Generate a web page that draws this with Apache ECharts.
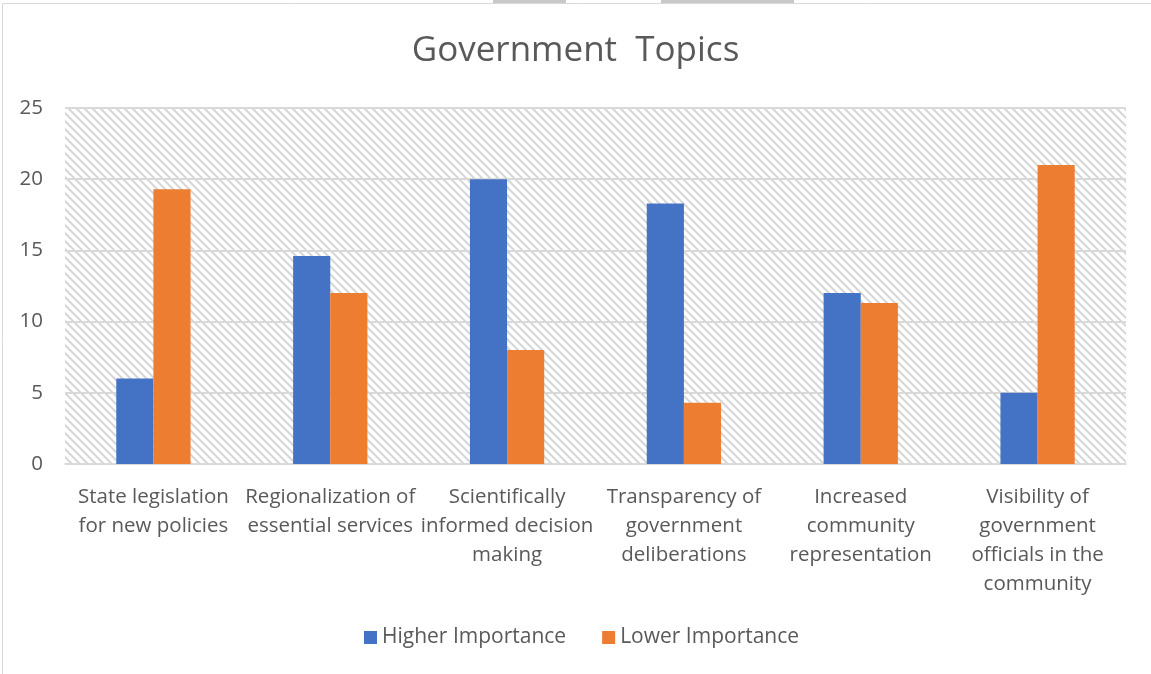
<!DOCTYPE html>
<html><head><meta charset="utf-8">
<script src="https://cdn.jsdelivr.net/npm/echarts@6/dist/echarts.min.js"></script>
<style>html,body{margin:0;padding:0;background:#fff}#c{width:1151px;height:674px}</style>
</head><body><div id="c"></div>
<script>
const categories = [
  "State legislation\nfor new policies",
  "Regionalization of\nessential services",
  "Scientifically\ninformed decision\nmaking",
  "Transparency of\ngovernment\ndeliberations",
  "Increased\ncommunity\nrepresentation",
  "Visibility of\ngovernment\nofficials in the\ncommunity"
];
const higherImportance = [6, 14.6, 20, 18.3, 12, 5];
const lowerImportance = [19.3, 12, 8, 4.3, 11.3, 21];
const yTicks = [0, 5, 10, 15, 20, 25];

const pc = document.createElement('canvas');
pc.width = 8; pc.height = 8;
const ctx = pc.getContext('2d');
ctx.fillStyle = '#ffffff'; ctx.fillRect(0,0,8,8);
ctx.strokeStyle = '#d6d6d6'; ctx.lineWidth = 2;
ctx.beginPath();
ctx.moveTo(-2,-2); ctx.lineTo(10,10);
ctx.moveTo(-10,-2); ctx.lineTo(2,10);
ctx.moveTo(6,-2); ctx.lineTo(18,10);
ctx.stroke();

const FONT = "'Open Sans', 'Noto Sans', sans-serif";
const chart = echarts.init(document.getElementById('c'), null, {renderer:'canvas'});
chart.setOption({
  animation: false,
  backgroundColor: '#fff',
  title: {
    text: 'Government  Topics', left: 'center', top: 29,
    textStyle: {fontFamily: FONT, fontSize: 35, fontWeight: 'normal', color: '#595959'}
  },
  graphic: [
    {type:'rect', shape:{x:2.5,y:3.5,width:1160,height:680}, style:{fill:'none', stroke:'#d9d9d9', lineWidth:1}, z:-1},
    {type:'rect', shape:{x:493,y:0,width:73,height:3}, style:{fill:'#c8c8c8'}},
    {type:'rect', shape:{x:661,y:0,width:133,height:3}, style:{fill:'#c8c8c8'}}
  ],
  legend: {
    bottom: 21, left: 359, itemWidth: 13, itemHeight: 13, itemGap: 36,
    icon: 'rect',
    textStyle: {fontFamily: FONT, fontSize: 21, color: '#595959'},
    data: ['Higher Importance', 'Lower Importance']
  },
  grid: {
    left: 65, right: 25, top: 108, bottom: 210, show: true,
    backgroundColor: {image: pc, repeat: 'repeat'}, borderWidth: 0
  },
  xAxis: {
    type: 'category', data: categories,
    axisLine: {lineStyle: {color: '#d9d9d9', width: 1.5}},
    axisTick: {show: false},
    axisLabel: {fontFamily: FONT, fontSize: 20.5, color: '#595959', lineHeight: 29, margin: 19, interval: 0}
  },
  yAxis: {
    type: 'value', min: 0, max: 25, interval: 5,
    axisLine: {show: false}, axisTick: {show: false},
    splitLine: {lineStyle: {color: '#d9d9d9', width: 2}},
    axisLabel: {fontFamily: FONT, fontSize: 20.5, color: '#595959', margin: 22,
      formatter: v => yTicks.includes(v) ? String(v) : ''}
  },
  series: [
    {name: 'Higher Importance', type: 'bar', data: higherImportance, barGap: '0%', barCategoryGap: '58%',
     itemStyle: {color: '#4472c4'}},
    {name: 'Lower Importance', type: 'bar', data: lowerImportance,
     itemStyle: {color: '#ed7d31'}}
  ]
});
</script></body></html>
